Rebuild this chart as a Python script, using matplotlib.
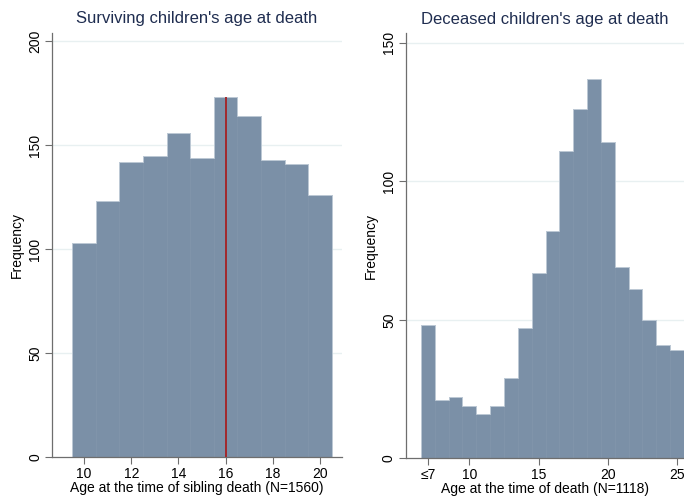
import numpy as np
import matplotlib
matplotlib.use("Agg")
import matplotlib.pyplot as plt

plt.rcParams["font.family"] = ["Liberation Sans", "DejaVu Sans"]

# Surviving children: age at the time of the sibling's death
surv_ages = [10, 11, 12, 13, 14, 15, 16, 17, 18, 19, 20]
surv_freq = [103, 123, 142, 145, 156, 144, 173, 164, 143, 141, 126]
surv_median = 16

# Deceased children: age at death (first bin is 7 or younger)
dec_ages = [7, 8, 9, 10, 11, 12, 13, 14, 15, 16, 17, 18, 19, 20, 21, 22, 23, 24, 25]
dec_freq = [48, 21, 22, 19, 16, 19, 29, 47, 67, 82, 111, 126, 137, 114, 69, 61, 50, 41, 39]

bar_color = "#7b90a7"
title_color = "#1f2d50"
grid_color = "#e8f0f1"
axis_color = "#6e6e6e"


def style_axes(ax, yticks):
    ax.set_facecolor("white")
    for side in ("top", "right"):
        ax.spines[side].set_visible(False)
    for side in ("left", "bottom"):
        ax.spines[side].set_color(axis_color)
        ax.spines[side].set_linewidth(0.9)
    ax.set_yticks(yticks)
    for y in yticks[1:]:
        ax.axhline(y, color=grid_color, lw=1.0, zorder=0)
    ax.tick_params(axis="both", direction="out", length=5, width=0.8,
                   color=axis_color, labelsize=10, pad=2)
    for lab in ax.get_yticklabels():
        lab.set_rotation(90)
        lab.set_va("center")


def draw_hist(ax, ages, freq):
    ax.bar(ages, freq, width=1.0, color=bar_color,
           edgecolor=bar_color, linewidth=0.4, zorder=2)
    # faint outline along the tops of the bars
    edges = np.append(np.array(ages) - 0.5, ages[-1] + 0.5)
    ax.stairs(freq, edges, color="#c4cfda", lw=0.6, zorder=2.5)


fig = plt.figure(figsize=(6.84, 4.98), dpi=100)

# Left panel
ax1 = fig.add_axes([52 / 684, 1 - 457 / 498, 290 / 684, 424 / 498])
draw_hist(ax1, surv_ages, surv_freq)
ax1.vlines(surv_median, 0, surv_freq[surv_ages.index(surv_median)],
           color="#a3282c", lw=1.4, zorder=3)
ax1.set_xlim(8.64, 20.93)
ax1.set_ylim(0, 204)
style_axes(ax1, [0, 50, 100, 150, 200])
ax1.set_xticks([10, 12, 14, 16, 18, 20])
ax1.set_xlabel("Age at the time of sibling death (N=1560)", fontsize=10, labelpad=0)
ax1.set_ylabel("Frequency", fontsize=10, labelpad=3)
ax1.set_title("Surviving children's age at death", fontsize=12,
              color=title_color, pad=7)

# Right panel
ax2 = fig.add_axes([405.7 / 684, 1 - 458.3 / 498, (684 - 405.7) / 684, 425 / 498])
draw_hist(ax2, dec_ages, dec_freq)
ax2.set_xlim(5.4, 25.5)
ax2.set_ylim(0, 153.4)
style_axes(ax2, [0, 50, 100, 150])
ax2.set_xticks([7, 10, 15, 20, 25])
ax2.set_xticklabels(["\u22647", "10", "15", "20", "25"])
ax2.set_xlabel("Age at the time of death (N=1118)", fontsize=10, labelpad=0)
ax2.set_ylabel("Frequency", fontsize=10, labelpad=3)
ax2.set_title("Deceased children's age at death", fontsize=12,
              color=title_color, pad=7)

fig.savefig("out.png", dpi=100, facecolor="white")
